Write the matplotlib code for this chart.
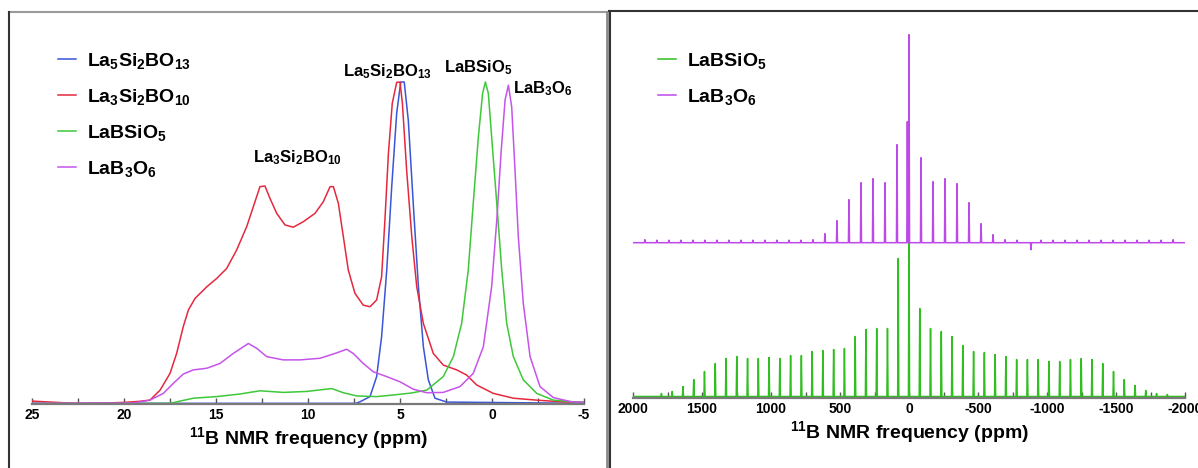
import matplotlib
matplotlib.use("Agg")
import matplotlib.pyplot as plt
from matplotlib.lines import Line2D

plt.rcParams['font.family'] = ['Liberation Sans', 'DejaVu Sans']
plt.rcParams['font.weight'] = 'bold'
plt.rcParams['mathtext.default'] = 'regular'
plt.rcParams['axes.unicode_minus'] = False

# ---- left panel: central transition, 11B MAS (ppm, normalised intensity)
red_ppm = [25, 24, 23, 22.5, 21, 20, 19.2, 18.59, 18.04, 17.5, 17.14, 16.78, 16.5, 16.14,
           15.5, 14.96, 14.42, 13.88, 13.33, 12.97, 12.61, 12.34, 12.07, 11.7, 11.25, 10.8,
           10.26, 9.62, 9.17, 8.8, 8.62, 8.35, 8.08, 7.81, 7.45, 7.0, 6.63, 6.27, 6.0, 5.82,
           5.63, 5.42, 5.18, 5.0, 4.87, 4.64, 4.36, 4.09, 3.73, 3.19, 2.65, 1.92, 1.38, 0.83,
           -0.07, -1.16, -2.43, -3.7, -5]
red_int = [0.009, 0.006, 0.003, 0.002, 0.003, 0.005, 0.008, 0.012, 0.043, 0.095, 0.157, 0.24,
           0.292, 0.328, 0.364, 0.39, 0.421, 0.478, 0.551, 0.613, 0.675, 0.677, 0.639, 0.592,
           0.556, 0.549, 0.566, 0.592, 0.628, 0.675, 0.675, 0.623, 0.52, 0.416, 0.344, 0.307,
           0.302, 0.323, 0.395, 0.571, 0.778, 0.934, 0.999, 1.0, 0.934, 0.727, 0.52, 0.364,
           0.25, 0.157, 0.121, 0.106, 0.09, 0.059, 0.033, 0.018, 0.012, 0.007, 0.005]

blue_ppm = [25, 7.4, 7.17, 6.63, 6.27, 6.0, 5.72, 5.45, 5.18, 4.96, 4.77, 4.55, 4.28, 4.0,
            3.73, 3.46, 3.1, 2.46, -5]
blue_int = [0.002, 0.002, 0.007, 0.023, 0.085, 0.209, 0.416, 0.675, 0.903, 1.0, 1.0, 0.882,
            0.623, 0.364, 0.178, 0.075, 0.018, 0.006, 0.002]

green_ppm = [25, 18.59, 17.5, 16.96, 16.23, 14.96, 13.7, 12.61, 11.34, 10.07, 8.71, 8.08,
             7.35, 6.27, 5.36, 4.4, 3.55, 2.65, 2.1, 1.65, 1.29, 1.02, 0.74, 0.51, 0.36, 0.2,
             0.02, -0.26, -0.53, -0.8, -1.16, -1.7, -2.43, -3.33, -4.6, -5]
green_int = [0.002, 0.002, 0.002, 0.009, 0.018, 0.023, 0.031, 0.041, 0.036, 0.039, 0.048,
             0.035, 0.025, 0.023, 0.028, 0.034, 0.043, 0.085, 0.147, 0.25, 0.416, 0.623, 0.83,
             0.965, 1.0, 0.965, 0.83, 0.623, 0.416, 0.25, 0.147, 0.075, 0.033, 0.012, 0.006,
             0.005]

purple_ppm = [25, 19.5, 18.59, 17.86, 17.32, 16.78, 16.23, 15.5, 14.78, 14.06, 13.24, 12.79,
              12.24, 11.34, 10.43, 9.35, 8.53, 7.9, 7.54, 7.0, 6.45, 5.72, 5.0, 4.28, 3.55,
              2.65, 1.74, 1.02, 0.47, 0.02, -0.26, -0.49, -0.71, -0.89, -1.07, -1.25, -1.43,
              -1.7, -2.07, -2.61, -3.33, -4.3, -5]
purple_int = [0.002, 0.003, 0.012, 0.033, 0.064, 0.093, 0.106, 0.111, 0.126, 0.157, 0.188,
              0.173, 0.147, 0.137, 0.137, 0.142, 0.157, 0.17, 0.157, 0.126, 0.1, 0.085, 0.069,
              0.046, 0.035, 0.036, 0.054, 0.095, 0.178, 0.364, 0.571, 0.778, 0.944, 0.99,
              0.923, 0.727, 0.52, 0.313, 0.147, 0.054, 0.02, 0.007, 0.005]

# ---- right panel: spinning sideband manifolds (ppm, intensity a.u.)
ssb_green_ppm = [1794, 1716, 1638, 1560, 1482, 1404, 1326, 1248, 1170, 1092, 1014, 936,
                 858, 780, 702, 624, 546, 468, 390, 312, 234, 156, 78, 0,
                 -78, -156, -234, -312, -390, -468, -546, -624, -702, -780, -858, -936,
                 -1014, -1092, -1170, -1248, -1326, -1404, -1482, -1560, -1638, -1716,
                 -1794, -1872]
ssb_green_int = [3, 5, 10, 17, 25, 33, 38, 40, 38, 38, 39, 38,
                 41, 41, 45, 46, 47, 48, 60, 67, 68, 68, 138, 177,
                 88, 68, 65, 60, 51, 45, 44, 42, 40, 37, 37, 37,
                 35, 35, 37, 38, 37, 33, 25, 17, 11, 6,
                 3, 2]

ssb_purple_ppm = [1914, 1827, 1740, 1653, 1566, 1479, 1392, 1305, 1218, 1131, 1044, 957,
                  870, 783, 696, 609, 522, 435, 348, 261, 174, 87, 12, 0,
                  -87, -174, -261, -348, -435, -522, -609, -696, -783, -884, -957,
                  -1044, -1131, -1218, -1305, -1392, -1479, -1566, -1653, -1740, -1827,
                  -1914]
ssb_purple_int = [3, 2.5, 2.5, 2.5, 2.5, 2.5, 2.5, 2.5, 2.5, 2.5, 2.5, 2.5,
                  2.5, 2.5, 3, 9, 22, 43, 60, 64, 60, 98, 121, 208,
                  85, 61, 64, 59, 40, 19, 8, 3, 2.5, -7, 2.5,
                  2.5, 2.5, 2.5, 2.5, 2.5, 2.5, 2.5, 2.5, 2.5, 2.5,
                  3]

names = [r"La$_5$Si$_2$BO$_{13}$", r"La$_3$Si$_2$BO$_{10}$", r"LaBSiO$_5$", r"LaB$_3$O$_6$"]
colors = ['#3a55d6', '#e6283f', '#3ec83a', '#c653ea']
xlabel = r"$^{11}$B NMR frequency (ppm)"

W, H = 1198, 468
fig = plt.figure(figsize=(W / 100, H / 100), dpi=100)


def fx(px):
    return px / W


def fy(py):
    return 1 - py / H


def spikes(pos, hgt, base, half=4):
    xs, ys = [2000], [base]
    for p, h in sorted(zip(pos, hgt), reverse=True):
        xs += [p + half, p, p - half]
        ys += [base, base + h, base]
    xs.append(-2000)
    ys.append(base)
    return xs, ys


def style_axis(ax):
    for s in ['left', 'right', 'top']:
        ax.spines[s].set_visible(False)
    ax.spines['bottom'].set_color('#7a7a7a')
    ax.spines['bottom'].set_linewidth(1.6)
    ax.set_yticks([])
    ax.tick_params(axis='x', which='both', direction='in', length=4, width=1,
                   color='#555555', pad=3, labelsize=10)
    for lab in ax.get_xticklabels():
        lab.set_fontweight('bold')


# left panel
ax1 = fig.add_axes([fx(32), fy(404), fx(552), 384 / H])
ax1.plot(blue_ppm, blue_int, color=colors[0], lw=1.1, label=names[0])
ax1.plot(red_ppm, red_int, color=colors[1], lw=1.1, label=names[1])
ax1.plot(green_ppm, green_int, color=colors[2], lw=1.1, label=names[2])
ax1.plot(purple_ppm, purple_int, color=colors[3], lw=1.1, label=names[3])
ax1.set_xlim(25, -5)
ax1.set_ylim(0, 384 / 322)
ax1.set_xticks([25, 20, 15, 10, 5, 0, -5])
ax1.set_xticks([22.5, 17.5, 12.5, 7.5, 2.5, -2.5], minor=True)
style_axis(ax1)
ax1.set_xlabel(xlabel, fontsize=14, fontweight='bold', labelpad=2)

ax1.text(10.6, 0.752, names[1], fontsize=12, ha='center', va='baseline')
ax1.text(5.68, 1.018, names[0], fontsize=12, ha='center', va='baseline')
ax1.text(0.76, 1.031, names[2], fontsize=12, ha='center', va='baseline')
ax1.text(-2.77, 0.966, names[3], fontsize=12, ha='center', va='baseline')

fig.legend(handles=ax1.get_lines(), loc='upper left', bbox_to_anchor=(fx(58), fy(51)),
           frameon=False, prop={'weight': 'bold', 'size': 14}, handlelength=0.95,
           handletextpad=0.55, labelspacing=0.82, borderpad=0, borderaxespad=0)

# right panel
ax2 = fig.add_axes([fx(633), fy(398), fx(552), 378 / H])
gx, gy = spikes(ssb_green_ppm, ssb_green_int, 1.5)
px_, py_ = spikes(ssb_purple_ppm, ssb_purple_int, 155.3)
l_g, = ax2.plot(gx, gy, color='#2fbf1f', lw=1.1, label=names[2])
l_p, = ax2.plot(px_, py_, color='#bd4ae8', lw=1.1, label=names[3])
ax2.set_xlim(2000, -2000)
ax2.set_ylim(0, 378)
ax2.set_xticks(range(2000, -2001, -500))
ax2.set_xticks(range(1750, -1751, -500), minor=True)
style_axis(ax2)
ax2.set_xlabel(xlabel, fontsize=14, fontweight='bold', labelpad=2)

fig.legend(handles=[l_g, l_p], loc='upper left', bbox_to_anchor=(fx(658), fy(51)),
           frameon=False, prop={'weight': 'bold', 'size': 14}, handlelength=0.95,
           handletextpad=0.55, labelspacing=0.82, borderpad=0, borderaxespad=0)

# panel frames
fig.add_artist(Line2D([fx(9), fx(606)], [fy(12), fy(12)], color='#9a9a9a', lw=1.5))
fig.add_artist(Line2D([fx(9), fx(9)], [fy(12), 0], color='#333333', lw=1.5))
fig.add_artist(Line2D([fx(606.5), fx(606.5)], [fy(12), 0], color='#8a8a8a', lw=2))
fig.add_artist(Line2D([fx(609), 1], [fy(11), fy(11)], color='#333333', lw=1.5))
fig.add_artist(Line2D([fx(609.5), fx(609.5)], [fy(11), 0], color='#333333', lw=1.5))

plt.savefig('out.png', dpi=100)
